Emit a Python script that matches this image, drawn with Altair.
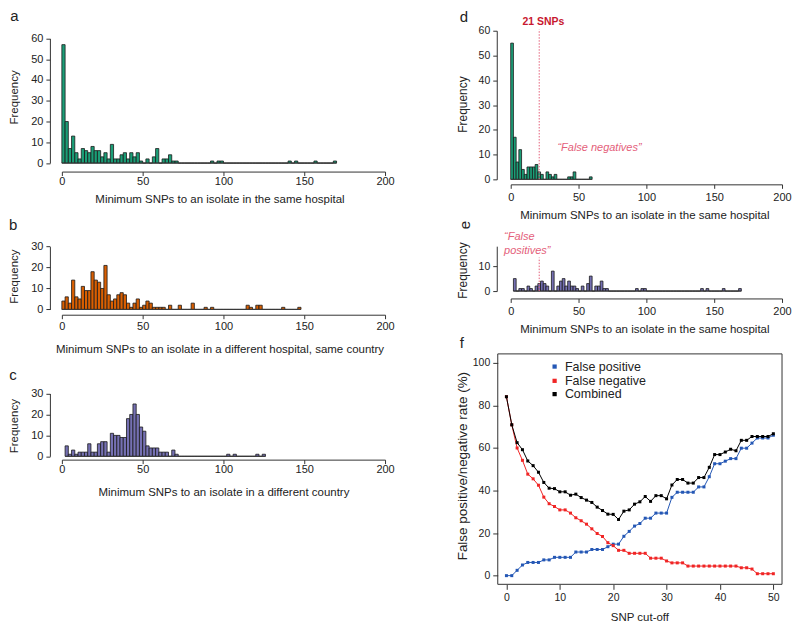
import altair as alt
import pandas as pd

FONT = "Liberation Sans"
AXIS_COLOR = "#333333"
TEXT_COLOR = "#222222"

BIN_WIDTH = 2
SNP_THRESHOLD = 21

# ---- histogram counts (2-SNP bins), first bin starts at *_start ----
hist_a_start = 0
hist_a_counts = [57, 20, 7, 13, 5, 2, 7, 6, 5, 8, 6, 6, 3, 5, 2, 9, 2, 2, 4, 5,
                 2, 5, 3, 5, 1, 0, 2, 0, 3, 7, 0, 2, 2, 4, 1, 1, 0, 0, 0, 0,
                 0, 0, 0, 0, 0, 0, 1, 0, 1, 1, 0, 0, 0, 0, 0, 0, 0, 0, 0, 0,
                 0, 0, 0, 0, 0, 0, 0, 0, 0, 0, 1, 0, 1, 0, 0, 0, 0, 0, 1, 0,
                 0, 0, 0, 0, 1]

hist_b_start = 0
hist_b_counts = [4, 6, 3, 14, 6, 5, 11, 9, 9, 18, 14, 13, 10, 21, 7, 4, 5, 7, 8, 7,
                 3, 1, 3, 5, 1, 2, 4, 3, 1, 1, 1, 1, 0, 2, 0, 0, 2, 0, 0, 0,
                 3, 0, 0, 0, 1, 0, 1, 0, 0, 0, 0, 0, 0, 0, 0, 0, 0, 2, 1, 0,
                 2, 2, 0, 0, 0, 0, 0, 0, 1, 0, 0, 0, 0, 1]

hist_c_start = 2
hist_c_counts = [5, 1, 3, 1, 2, 2, 2, 6, 2, 2, 6, 7, 7, 2, 11, 10, 10, 9, 9, 18,
                 20, 25, 20, 14, 12, 5, 4, 4, 4, 2, 2, 2, 0, 3, 1, 0, 0, 0, 0, 0,
                 0, 0, 0, 0, 0, 0, 0, 0, 0, 0, 1, 0, 1, 0, 0, 0, 0, 0, 0, 1,
                 0, 1]

hist_d_start = 0
hist_d_counts = [55, 17, 7, 12, 4, 2, 5, 5, 5, 6, 3, 2, 0, 3, 2, 1, 2, 0, 0, 0,
                 0, 1, 1, 3, 0, 0, 0, 0, 0, 1]

hist_e_start = 2
hist_e_counts = [5, 0, 1, 1, 0, 2, 1, 0, 2, 3, 4, 3, 2, 0, 8, 0, 2, 4, 5, 2,
                 4, 2, 2, 1, 0, 2, 0, 3, 6, 0, 2, 2, 4, 1, 1, 0, 0, 0, 0, 0,
                 0, 0, 0, 0, 0, 1, 0, 1, 1, 0, 0, 0, 0, 0, 0, 0, 0, 0, 0, 0,
                 0, 0, 0, 0, 0, 0, 0, 0, 0, 1, 0, 1, 0, 0, 0, 0, 0, 1, 0, 0,
                 0, 0, 0, 1]

# ---- panel f: error rates by SNP cut-off ----
snp_cutoff = list(range(0, 51))
false_positive = [0, 0, 2.5, 5, 6.2, 6.2, 6.2, 7.4, 7.4, 8.6,
                  8.6, 8.6, 8.6, 11.1, 11.1, 11.1, 12.3, 12.3, 12.3, 13.6,
                  14.8, 14.8, 18.5, 20.8, 23.3, 24.5, 27, 27, 29.4, 29.4,
                  29.4, 36.8, 39.2, 39.2, 39.2, 39.2, 41.7, 41.7, 46.5, 52.6,
                  52.6, 53.8, 55, 55, 59.9, 59.9, 62.3, 64.7, 64.7, 64.7,
                  66]
false_negative = [84.1, 70.9, 60, 54.2, 47.7, 45.5, 42.5, 36.9, 33.8, 32.5,
                  30.9, 30.9, 29.4, 27.2, 25.8, 24.2, 22, 19.8, 18.4, 15.5,
                  14.1, 11.9, 11.9, 10.5, 10.5, 10.5, 10.5, 8.2, 8.2, 8.2,
                  6.9, 6, 6, 6, 4.5, 4.5, 4.5, 4.5, 4.5, 4.5,
                  4.5, 4.5, 4.5, 4.5, 3.7, 3.7, 3.1, 0.9, 0.9, 0.9,
                  0.9]
combined = [84.1, 70.9, 62.5, 59.2, 53.9, 51.7, 48.6, 43.8, 41.1, 40.9,
            39.4, 39.4, 37.8, 38.3, 36.7, 35.5, 34.4, 32.2, 30.6, 28.9,
            28.8, 26.4, 30.3, 30.9, 33.6, 34.7, 37.2, 34.9, 37.6, 37.6,
            36.1, 42.6, 45.2, 45.2, 43.5, 43.5, 46.1, 46.1, 50.9, 56.9,
            56.9, 58.1, 59.4, 58.7, 63.6, 63.6, 65.4, 65.4, 65.4, 65.4,
            66.7]

series_names = ["False positive", "False negative", "Combined"]
series_colors = ["#2457b5", "#f02525", "#000000"]

GREEN, ORANGE, PURPLE = "#1b9e77", "#d95f02", "#7570b3"
RED_LINE = "#e4607a"
RED_TEXT = "#c8182f"

X_TITLE_SAME = "Minimum SNPs to an isolate in the same hospital"


def one_row():
    return pd.DataFrame({"k": [0]})


def label(txt, x, y, size, color=TEXT_COLOR, weight="normal", style="normal",
          align="left", baseline="alphabetic", angle=0):
    return alt.Chart(pd.DataFrame({"t": [txt]})).mark_text(
        align=align, baseline=baseline, fontSize=size, fontWeight=weight,
        fontStyle=style, color=color, font=FONT, angle=angle
    ).encode(text="t:N", x=alt.value(x), y=alt.value(y))


def histogram(counts, start, fill, x_range, y_domain, y_range, y_values,
              x_title, x_title_xy, y_title_xy, y_offset=0, lab_size=11,
              x_pad=2, y_title_size=11.5):
    lo = [start + BIN_WIDTH * i for i in range(len(counts))]
    df = pd.DataFrame({"lo": lo, "hi": [v + BIN_WIDTH for v in lo], "n": counts})
    xs = alt.Scale(domain=[0, 200], range=x_range, nice=False, zero=False)
    ys = alt.Scale(domain=y_domain, range=y_range, nice=False, zero=False)
    xaxis = alt.Axis(values=[0, 50, 100, 150, 200], format="d", title=x_title,
                     titleX=x_title_xy[0], titleY=x_title_xy[1],
                     titleAlign="center", titleBaseline="middle", titleAngle=0,
                     tickSize=4, labelPadding=x_pad, labelFontSize=11,
                     labelFlush=False, labelOverlap=False)
    yaxis = alt.Axis(values=y_values, format="d", title="Frequency",
                     titleX=y_title_xy[0], titleY=y_title_xy[1], titleFontSize=y_title_size,
                     titleAlign="center", titleBaseline="middle", titleAngle=270,
                     tickSize=4, labelPadding=3, labelFontSize=lab_size,
                     labelAngle=0, labelAlign="right", labelBaseline="middle",
                     offset=y_offset, labelFlush=False, labelOverlap=False)
    X = alt.X("lo:Q", scale=xs, axis=xaxis)
    Y = alt.Y("n:Q", scale=ys, axis=yaxis)
    bars = alt.Chart(df).mark_rect(fill=fill, stroke="#1a1a1a", strokeWidth=0.8).encode(
        x=X, x2="hi:Q", y=Y, y2=alt.datum(0))
    base_df = pd.DataFrame({"lo": [lo[0]], "hi": [lo[-1] + BIN_WIDTH]})
    baseline = alt.Chart(base_df).mark_rule(color="#3a3a3a", strokeWidth=1).encode(
        x=X, x2="hi:Q", y=alt.value(y_range[0]))
    return [bars, baseline]


# ---------------- panel a ----------------
a_layers = histogram(hist_a_counts, hist_a_start, GREEN,
                     [12, 336], [0, 60], [132.7, 7.7], [0, 10, 20, 30, 40, 50, 60],
                     X_TITLE_SAME, (170, 28), (-35.7, 66.4), x_pad=0)
anchor = alt.Chart(one_row()).mark_rule(color="white", strokeWidth=0.01).encode(
    x=alt.value(-41), x2=alt.value(-40), y=alt.value(-21.3), y2=alt.value(-21.3))
panel_a = alt.layer(*a_layers, anchor, label("a", -39.7, -10, 15)).properties(
    width=340, height=141.2)

# ---------------- panel b ----------------
b_layers = histogram(hist_b_counts, hist_b_start, ORANGE,
                     [12, 336], [0, 30], [86.4, 23.4], [0, 10, 20, 30],
                     "Minimum SNPs to an isolate in a different hospital, same country",
                     (170, 35), (-35.7, 53), x_pad=2)
panel_b = alt.layer(*b_layers, label("b", -41, 7, 15)).properties(width=340, height=91.7)

# ---------------- panel c ----------------
c_layers = histogram(hist_c_counts, hist_c_start, PURPLE,
                     [12, 336], [0, 30], [102.7, 39.7], [0, 10, 20, 30],
                     "Minimum SNPs to an isolate in a different country",
                     (174, 32.5), (-35.7, 72), x_pad=0)
panel_c = alt.layer(*c_layers, label("c", -40.7, 26.3, 15)).properties(width=340, height=106)

# ---------------- panel d ----------------
d_layers = histogram(hist_d_counts, hist_d_start, GREEN,
                     [13, 285], [0, 60], [149, 0], [0, 10, 20, 30, 40, 50, 60],
                     X_TITLE_SAME, (147, 31), (-34.3, 73.5), y_offset=1,
                     lab_size=10.5, x_pad=3, y_title_size=12)
d_cut = alt.Chart(one_row()).mark_rule(color=RED_LINE, strokeWidth=1, strokeDash=[1.5, 1.5]).encode(
    x=alt.datum(SNP_THRESHOLD), y=alt.value(149), y2=alt.value(-1.3))
panel_d = alt.layer(
    *d_layers, d_cut,
    label("21 SNPs", 45.7, -8.6, 10.5, color=RED_TEXT, weight="bold", align="center", baseline="middle"),
    label("\u201cFalse negatives\u201d", 102, 117.7, 11, color=RED_LINE, style="italic",
          align="center", baseline="middle"),
    label("d", -38, -8.6, 15),
).properties(width=285, height=154)

# ---------------- panel e ----------------
e_layers = histogram(hist_e_counts, hist_e_start, PURPLE,
                     [13, 285], [0, 18], [68, 23], [0, 10],
                     X_TITLE_SAME, (147, 31.3), (-34.3, 46.9), y_offset=1,
                     lab_size=10.5, x_pad=3, y_title_size=12)
e_cut = alt.Chart(one_row()).mark_rule(color=RED_LINE, strokeWidth=1, strokeDash=[1.5, 1.5]).encode(
    x=alt.datum(SNP_THRESHOLD), y=alt.value(68), y2=alt.value(34.4))
panel_e = alt.layer(
    *e_layers, e_cut,
    label("\u201cFalse", 6.3, 13.7, 11, color=RED_LINE, style="italic", baseline="middle"),
    label("positives\u201d", 6.3, 27.7, 11, color=RED_LINE, style="italic", baseline="middle"),
    label("e", -33.3, 1.9, 15, align="center", baseline="middle", angle=270),
).properties(width=285, height=75.4)

# ---------------- panel f ----------------
fxs = alt.Scale(domain=[0, 50], range=[8.7, 276.3], nice=False, zero=False)
fys = alt.Scale(domain=[0, 100], range=[222.3, 9], nice=False, zero=False)
fX = alt.X("cut:Q", scale=fxs, axis=alt.Axis(
    values=[0, 10, 20, 30, 40, 50], domain=False, tickSize=5, labelPadding=3,
    labelFontSize=10.5, title="SNP cut-off", titleX=142, titleY=33.7,
    titleAlign="center", titleBaseline="middle", labelFlush=False, labelOverlap=False))
fY = alt.Y("rate:Q", scale=fys, axis=alt.Axis(
    values=[0, 20, 40, 60, 80, 100], domain=False, tickSize=5, labelPadding=3,
    labelFontSize=10.5, labelAngle=0, labelAlign="right", labelBaseline="middle",
    title="False positive/negative rate (%)", titleX=-35, titleY=112, titleFontSize=13.5,
    titleAngle=270, titleAlign="center", titleBaseline="middle", labelFlush=False,
    labelOverlap=False))
f_layers = []
for name, vals, col in zip(series_names, [false_positive, false_negative, combined], series_colors):
    sdf = pd.DataFrame({"cut": snp_cutoff, "rate": vals, "series": name})
    f_layers.append(alt.Chart(sdf).mark_line(color=col, strokeWidth=1).encode(x=fX, y=fY))
    f_layers.append(alt.Chart(sdf).mark_square(size=9, opacity=1, color=col).encode(x=fX, y=fY))
# key drawn inside the plot box, as in the original
legend_rows = [12.7, 27, 40.3]
for name, col, ry in zip(series_names, series_colors, legend_rows):
    f_layers.append(alt.Chart(one_row()).mark_square(size=18, opacity=1, color=col).encode(
        x=alt.value(57), y=alt.value(ry)))
    f_layers.append(label(name, 67.3, ry, 12.5, baseline="middle"))
box = alt.Chart(one_row()).mark_rect(filled=False, stroke=AXIS_COLOR, strokeWidth=1).encode(
    x=alt.value(0), x2=alt.value(285), y=alt.value(0), y2=alt.value(231))
panel_f = alt.layer(*f_layers, box, label("f", -38, -6, 15)).properties(width=285, height=231)

chart = alt.concat(
    panel_a, panel_d, panel_b, panel_e, panel_c, panel_f,
    columns=2, spacing=alt.RowColnumber(row=39, column=109), bounds="flush", align="each"
).properties(
    padding=0
).configure_view(stroke=None).configure_axis(
    grid=False, labelFont=FONT, titleFont=FONT, labelColor=TEXT_COLOR,
    titleColor=TEXT_COLOR, domainColor=AXIS_COLOR, tickColor=AXIS_COLOR,
    titleFontWeight="normal", titleFontSize=11.5, domainWidth=1, tickWidth=1,
    labelOverlap=False
).configure_text(font=FONT)

chart.save("out.html", embed_options={"renderer": "svg", "actions": False})
